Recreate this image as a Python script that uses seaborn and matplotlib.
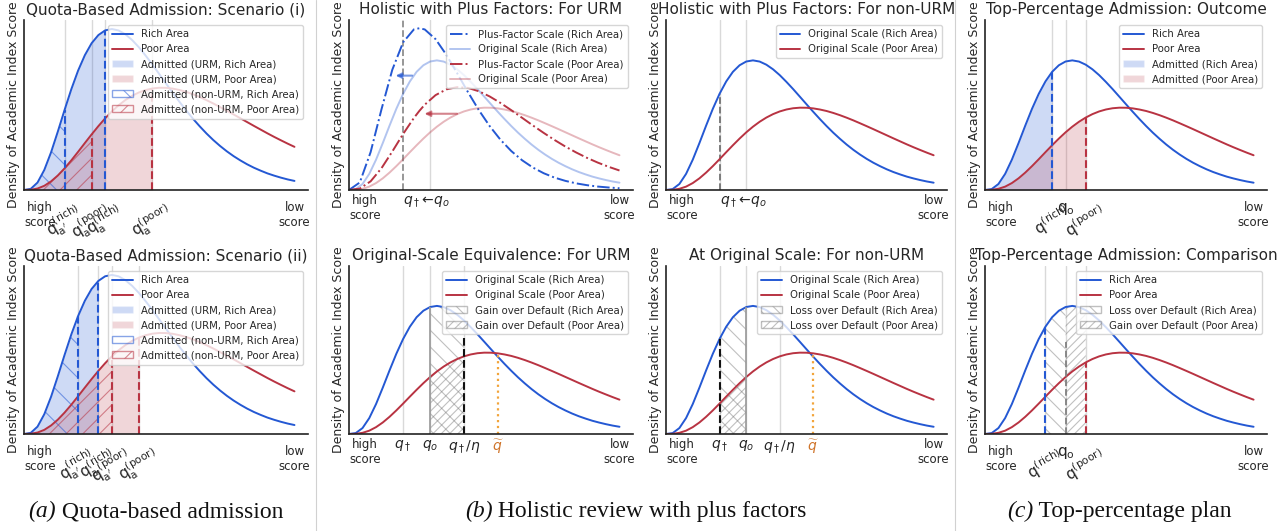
import matplotlib
matplotlib.use("Agg")
import matplotlib.pyplot as plt
import seaborn as sns
from matplotlib.lines import Line2D
from matplotlib.patches import Patch
from matplotlib.offsetbox import TextArea, HPacker, AnnotationBbox

# academic index score axis (left = high score, right = low score)
score = [0.0, 0.25, 0.5, 0.75, 1.0, 1.25, 1.5, 1.75, 2.0, 2.25,
         2.5, 2.75, 3.0, 3.25, 3.5, 3.75, 4.0, 4.25, 4.5, 4.75,
         5.0, 5.25, 5.5, 5.75, 6.0, 6.25, 6.5, 6.75, 7.0, 7.25,
         7.5, 7.75, 8.0, 8.25, 8.5, 8.75, 9.0, 9.25, 9.5, 9.75, 10.0]
# density, original scale
rich = [0.0000, 0.0015, 0.0096, 0.0258, 0.0485, 0.0752, 0.1031, 0.1299, 0.1538, 0.1737,
        0.1891, 0.1996, 0.2056, 0.2074, 0.2055, 0.2005, 0.1931, 0.1838, 0.1730, 0.1615,
        0.1494, 0.1372, 0.1252, 0.1135, 0.1023, 0.0917, 0.0819, 0.0727, 0.0643, 0.0567,
        0.0498, 0.0436, 0.0381, 0.0331, 0.0287, 0.0249, 0.0214, 0.0185, 0.0159, 0.0136,
        0.0117]
poor = [0.0000, 0.0003, 0.0019, 0.0054, 0.0111, 0.0187, 0.0279, 0.0382, 0.0492, 0.0605,
        0.0716, 0.0823, 0.0923, 0.1013, 0.1092, 0.1159, 0.1214, 0.1257, 0.1288, 0.1308,
        0.1317, 0.1316, 0.1306, 0.1288, 0.1264, 0.1233, 0.1197, 0.1157, 0.1114, 0.1068,
        0.1021, 0.0973, 0.0924, 0.0875, 0.0826, 0.0778, 0.0730, 0.0684, 0.0640, 0.0597,
        0.0556]
# plus-factor scale curves
score_pf = [0.0, 0.4, 0.8, 1.2, 1.6, 2.0, 2.4, 2.6, 2.8, 3.2, 3.6, 4.0, 4.4, 4.8, 5.2,
            5.6, 6.0, 6.4, 6.8, 7.2, 7.6, 8.0, 8.4, 8.8, 9.2, 9.6, 10.0]
rich_pf = [0.0000, 0.0121, 0.0607, 0.1289, 0.1923, 0.2363, 0.2570, 0.2588, 0.2569, 0.2414,
           0.2163, 0.1868, 0.1565, 0.1278, 0.1023, 0.0804, 0.0623, 0.0476, 0.0359, 0.0268,
           0.0198, 0.0146, 0.0106, 0.0077, 0.0055, 0.0040, 0.0028]
poor_pf = [0.0000, 0.0023, 0.0139, 0.0348, 0.0615, 0.0896, 0.1153, 0.1265, 0.1365, 0.1518,
           0.1610, 0.1646, 0.1633, 0.1580, 0.1497, 0.1393, 0.1277, 0.1155, 0.1032, 0.0913,
           0.0800, 0.0695, 0.0600, 0.0514, 0.0438, 0.0371, 0.0312]
# shift arrows (original -> plus factor): height, from, to
shift_y = [0.183, 0.122]
shift_from = [2.44, 4.10]
shift_to = [1.62, 2.69]

# thresholds
quota_i = [1.5, 2.5, 3.0, 4.75]    # q_a'(rich), q_a'(poor), q_a(rich), q_a(poor)
quota_ii = [2.0, 3.25, 2.75, 4.25]
holistic = [2.0, 3.0, 4.25, 5.5]   # q_dagger, q_o, q_dagger/eta, q_tilde
top_out = [2.5, 3.0, 3.75]         # q(rich), q_o, q(poor)
top_cmp = [2.25, 3.0, 3.75]

BLUE = "#2458d3"
RED = "#b83342"
ORANGE = "#cf742a"
LIGHT = "#d9d9d9"
HATCH_GRAY = (0.45, 0.45, 0.45, 0.45)
YTOP_A = 0.219
YTOP_B = 0.272

sns.set_theme(style="white")
plt.rcParams["font.family"] = ["DejaVu Sans"]
plt.rcParams["hatch.linewidth"] = 0.8

fig = plt.figure(figsize=(12.82, 5.31), dpi=100)
cols = [(24, 284), (349, 284), (666, 281), (985, 282)]
rows = [(20, 170), (266, 168)]


def make_ax(r, c):
    x0, w = cols[c]
    y0, h = rows[r]
    return fig.add_axes([x0 / 1282, 1 - (y0 + h) / 531, w / 1282, h / 531])


def at(series, q):
    return series[score.index(q)]


def base(ax, title, ytop):
    ax.set_xlim(0, 10.5)
    ax.set_ylim(0, ytop)
    ax.set_title(title, fontsize=11, pad=4)
    ax.set_ylabel("Density of Academic Index Score", fontsize=9, labelpad=3)
    ax.set_yticks([])
    sns.despine(ax=ax)
    for side in ["left", "bottom"]:
        ax.spines[side].set_color("#222222")
        ax.spines[side].set_linewidth(1.2)


def ticks(ax, pos, labels, rotated=(), tick_colors=None, label_colors=None,
          math_size=10.5, first_left=False):
    ax.set_xticks([0] + list(pos) + [10])
    ax.set_xticklabels(["high\nscore"] + list(labels) + ["low\nscore"], fontsize=8.5)
    if tick_colors is None:
        ax.tick_params(axis="x", length=0, pad=3)
    else:
        ax.tick_params(axis="x", length=3.5, width=1.2, pad=4.5)
        for t, c in zip(ax.xaxis.get_major_ticks(), ["none"] + tick_colors + ["none"]):
            t.tick1line.set_color(c)
    tls = ax.get_xticklabels()
    tls[0].set_ha("left")
    tls[0].set_multialignment("center")
    tls[-1].set_multialignment("center")
    for t in tls[1:-1]:
        t.set_fontsize(math_size)
    if first_left:
        tls[1].set_ha("left")
    for i in rotated:
        tls[i + 1].set_rotation(30)
    if label_colors:
        for i, c in label_colors.items():
            tls[i + 1].set_color(c)


def curve(ax, x, y, color, **kw):
    sns.lineplot(x=x, y=y, ax=ax, color=color, linewidth=1.4, legend=False, **kw)


def region(ax, series, lo, hi, **kw):
    i, j = score.index(lo), score.index(hi)
    ax.fill_between(score[i:j + 1], 0, series[i:j + 1], linewidth=0, **kw)


def legend(ax, handles):
    ax.legend(handles=handles, loc="upper right", fontsize=7.3)


def quota_panel(ax, title, cuts):
    rp, pp, r, p = cuts
    base(ax, title, YTOP_A)
    for q in cuts:
        ax.axvline(q, color=LIGHT, lw=1, zorder=0)
    region(ax, rich, 0.0, r, color=BLUE, alpha=0.22)
    region(ax, poor, 0.0, p, color=RED, alpha=0.2)
    region(ax, rich, 0.0, rp, facecolor="none", edgecolor=(0.14, 0.35, 0.83, 0.55), hatch="\\")
    region(ax, poor, 0.0, pp, facecolor="none", edgecolor=(0.72, 0.2, 0.26, 0.55), hatch="//")
    curve(ax, score, rich, BLUE)
    curve(ax, score, poor, RED)
    for q, s, c in [(rp, rich, BLUE), (pp, poor, RED), (r, rich, BLUE), (p, poor, RED)]:
        ax.vlines(q, 0, at(s, q), colors=c, linestyles="--", lw=1.5)
    names = {rp: r"$\mathrm{q}_{\mathrm{a}^{\prime}}^{(\mathrm{rich})}$",
             pp: r"$\mathrm{q}_{\mathrm{a}^{\prime}}^{(\mathrm{poor})}$",
             r: r"$\mathrm{q}_{\mathrm{a}}^{(\mathrm{rich})}$",
             p: r"$\mathrm{q}_{\mathrm{a}}^{(\mathrm{poor})}$"}
    cmap = {rp: BLUE, pp: RED, r: BLUE, p: RED}
    order = sorted(cuts)
    ticks(ax, order, [names[q] for q in order], rotated=range(4),
          tick_colors=[cmap[q] for q in order], math_size=11)
    legend(ax, [
        Line2D([], [], color=BLUE, lw=1.4, label="Rich Area"),
        Line2D([], [], color=RED, lw=1.4, label="Poor Area"),
        Patch(facecolor=BLUE, alpha=0.22, label="Admitted (URM, Rich Area)"),
        Patch(facecolor=RED, alpha=0.2, label="Admitted (URM, Poor Area)"),
        Patch(facecolor="none", edgecolor=(0.14, 0.35, 0.83, 0.55), hatch="\\",
              label="Admitted (non-URM, Rich Area)"),
        Patch(facecolor="none", edgecolor=(0.72, 0.2, 0.26, 0.55), hatch="//",
              label="Admitted (non-URM, Poor Area)"),
    ])


# ---- (a) quota-based admission
quota_panel(make_ax(0, 0), "Quota-Based Admission: Scenario (i)", quota_i)
quota_panel(make_ax(1, 0), "Quota-Based Admission: Scenario (ii)", quota_ii)

q_dag, q_o, q_eta, q_til = holistic
orig_handles = [Line2D([], [], color=BLUE, lw=1.4, label="Original Scale (Rich Area)"),
                Line2D([], [], color=RED, lw=1.4, label="Original Scale (Poor Area)")]
shift_label = r"$q_\dagger\!\leftarrow\!q_o$"

# ---- (b) holistic review, URM (plus-factor scale)
ax = make_ax(0, 1)
base(ax, "Holistic with Plus Factors: For URM", YTOP_B)
ax.axvline(q_o, color=LIGHT, lw=1, zorder=0)
ax.axvline(q_dag, color="0.45", ls="--", lw=1.3, alpha=0.8)
curve(ax, score_pf, rich_pf, BLUE, linestyle="-.")
curve(ax, score, rich, BLUE, alpha=0.35)
curve(ax, score_pf, poor_pf, RED, linestyle="-.")
curve(ax, score, poor, RED, alpha=0.35)
for yv, x0, x1, c in zip(shift_y, shift_from, shift_to, [BLUE, RED]):
    ax.annotate("", xy=(x1, yv), xytext=(x0, yv),
                arrowprops=dict(arrowstyle="-|>", color=c, lw=1.5, alpha=0.6, mutation_scale=8))
ticks(ax, [q_dag], [shift_label], math_size=10, first_left=True)
legend(ax, [
    Line2D([], [], color=BLUE, lw=1.4, ls="-.", label="Plus-Factor Scale (Rich Area)"),
    Line2D([], [], color=BLUE, lw=1.4, alpha=0.35, label="Original Scale (Rich Area)"),
    Line2D([], [], color=RED, lw=1.4, ls="-.", label="Plus-Factor Scale (Poor Area)"),
    Line2D([], [], color=RED, lw=1.4, alpha=0.35, label="Original Scale (Poor Area)"),
])

# ---- (b) holistic review, non-URM
ax = make_ax(0, 2)
base(ax, "Holistic with Plus Factors: For non-URM", YTOP_B)
ax.axvline(q_dag, color=LIGHT, lw=1, zorder=0)
ax.axvline(q_o, color=LIGHT, lw=1, zorder=0)
ax.vlines(q_dag, 0, at(rich, q_dag), colors="0.45", linestyles="--", lw=1.3)
curve(ax, score, rich, BLUE)
curve(ax, score, poor, RED)
ticks(ax, [q_dag], [shift_label], math_size=10, first_left=True)
legend(ax, orig_handles)

# ---- (b) original-scale equivalence, URM
ax = make_ax(1, 1)
base(ax, "Original-Scale Equivalence: For URM", YTOP_B)
for q in [q_dag, q_o, q_eta]:
    ax.axvline(q, color=LIGHT, lw=1, zorder=0)
region(ax, rich, q_o, q_eta, facecolor="none", edgecolor=HATCH_GRAY, hatch="\\\\")
region(ax, poor, q_o, q_eta, facecolor="none", edgecolor=HATCH_GRAY, hatch="////")
curve(ax, score, rich, BLUE)
curve(ax, score, poor, RED)
ax.vlines(q_o, 0, at(rich, q_o), colors="0.6", lw=1.2)
ax.vlines(q_eta, 0, (at(rich, q_eta) + at(poor, q_eta)) / 2, colors="#111111",
          linestyles="--", lw=1.5)
ax.vlines(q_til, 0, at(poor, q_til), colors="#f2a43a", linestyles=":", lw=1.6)
ticks(ax, holistic, [r"$q_\dagger$", r"$q_o$", r"$q_\dagger/\eta$", r"$\widetilde{q}$"],
      label_colors={3: ORANGE}, math_size=10)
legend(ax, orig_handles + [
    Patch(facecolor="none", edgecolor=HATCH_GRAY, hatch="\\\\", label="Gain over Default (Rich Area)"),
    Patch(facecolor="none", edgecolor=HATCH_GRAY, hatch="////", label="Gain over Default (Poor Area)"),
])

# ---- (b) original scale, non-URM
ax = make_ax(1, 2)
base(ax, "At Original Scale: For non-URM", YTOP_B)
for q in [q_dag, q_o, q_eta]:
    ax.axvline(q, color=LIGHT, lw=1, zorder=0)
region(ax, rich, q_dag, q_o, facecolor="none", edgecolor=HATCH_GRAY, hatch="\\\\")
region(ax, poor, q_dag, q_o, facecolor="none", edgecolor=HATCH_GRAY, hatch="////")
curve(ax, score, rich, BLUE)
curve(ax, score, poor, RED)
ax.vlines(q_o, 0, at(rich, q_o), colors="0.6", lw=1.2)
ax.vlines(q_dag, 0, at(rich, q_dag), colors="#111111", linestyles="--", lw=1.5)
ax.vlines(q_til, 0, at(poor, q_til), colors="#f2a43a", linestyles=":", lw=1.6)
ticks(ax, holistic, [r"$q_\dagger$", r"$q_o$", r"$q_\dagger/\eta$", r"$\widetilde{q}$"],
      label_colors={3: ORANGE}, math_size=10)
legend(ax, orig_handles + [
    Patch(facecolor="none", edgecolor=HATCH_GRAY, hatch="\\\\", label="Loss over Default (Rich Area)"),
    Patch(facecolor="none", edgecolor=HATCH_GRAY, hatch="////", label="Loss over Default (Poor Area)"),
])

# ---- (c) top-percentage plan
top_labels = [r"$\mathrm{q}^{(\mathrm{rich})}$", r"$\mathrm{q}_{\mathrm{o}}$",
              r"$\mathrm{q}^{(\mathrm{poor})}$"]
area_handles = [Line2D([], [], color=BLUE, lw=1.4, label="Rich Area"),
                Line2D([], [], color=RED, lw=1.4, label="Poor Area")]

ax = make_ax(0, 3)
qr, qo, qp = top_out
base(ax, "Top-Percentage Admission: Outcome", YTOP_B)
for q in top_out:
    ax.axvline(q, color=LIGHT, lw=1, zorder=0)
region(ax, rich, 0.0, qr, color=BLUE, alpha=0.22)
region(ax, poor, 0.0, qp, color=RED, alpha=0.2)
curve(ax, score, rich, BLUE)
curve(ax, score, poor, RED)
ax.vlines(qr, 0, at(rich, qr), colors=BLUE, linestyles="--", lw=1.5)
ax.vlines(qp, 0, at(poor, qp), colors=RED, linestyles="--", lw=1.5)
ticks(ax, top_out, top_labels, rotated=(0, 2), tick_colors=[BLUE, "0.6", RED], math_size=11)
legend(ax, area_handles + [
    Patch(facecolor=BLUE, alpha=0.22, label="Admitted (Rich Area)"),
    Patch(facecolor=RED, alpha=0.2, label="Admitted (Poor Area)"),
])

ax = make_ax(1, 3)
qr, qo, qp = top_cmp
base(ax, "Top-Percentage Admission: Comparison", YTOP_B)
for q in top_cmp:
    ax.axvline(q, color=LIGHT, lw=1, zorder=0)
region(ax, rich, qr, qo, facecolor="none", edgecolor=HATCH_GRAY, hatch="\\\\")
region(ax, rich, qo, qp, facecolor="none", edgecolor=HATCH_GRAY, hatch="////")
curve(ax, score, rich, BLUE)
curve(ax, score, poor, RED)
ax.vlines(qr, 0, at(rich, qr), colors=BLUE, linestyles="--", lw=1.5)
ax.vlines(qo, 0, (at(rich, qo) + at(poor, qo)) / 2, colors="0.5", linestyles="--", lw=1.3)
ax.vlines(qp, 0, at(poor, qp), colors=RED, linestyles="--", lw=1.5)
ticks(ax, top_cmp, top_labels, rotated=(0, 2), tick_colors=[BLUE, "0.6", RED], math_size=11)
legend(ax, area_handles + [
    Patch(facecolor="none", edgecolor=HATCH_GRAY, hatch="\\\\", label="Loss over Default (Rich Area)"),
    Patch(facecolor="none", edgecolor=HATCH_GRAY, hatch="////", label="Gain over Default (Poor Area)"),
])

# separators and sub-captions
for xs in [0.2465, 0.745]:
    fig.add_artist(Line2D([xs, xs], [0, 1], transform=fig.transFigure, color="0.82", lw=0.8))

cap = dict(family="Liberation Serif", size=17, color="#111111")
for cx, tag, text in [(0.1217, "(a)", " Quota-based admission"),
                      (0.496, "(b)", " Holistic review with plus factors"),
                      (0.873, "(c)", " Top-percentage plan")]:
    box = HPacker(children=[TextArea(tag, textprops=dict(style="italic", **cap)),
                            TextArea(text, textprops=cap)],
                  align="baseline", pad=0, sep=0)
    fig.add_artist(AnnotationBbox(box, (cx, 0.036), xycoords="figure fraction",
                                  frameon=False, box_alignment=(0.5, 0.5)))

fig.savefig("out.png", dpi=100)
